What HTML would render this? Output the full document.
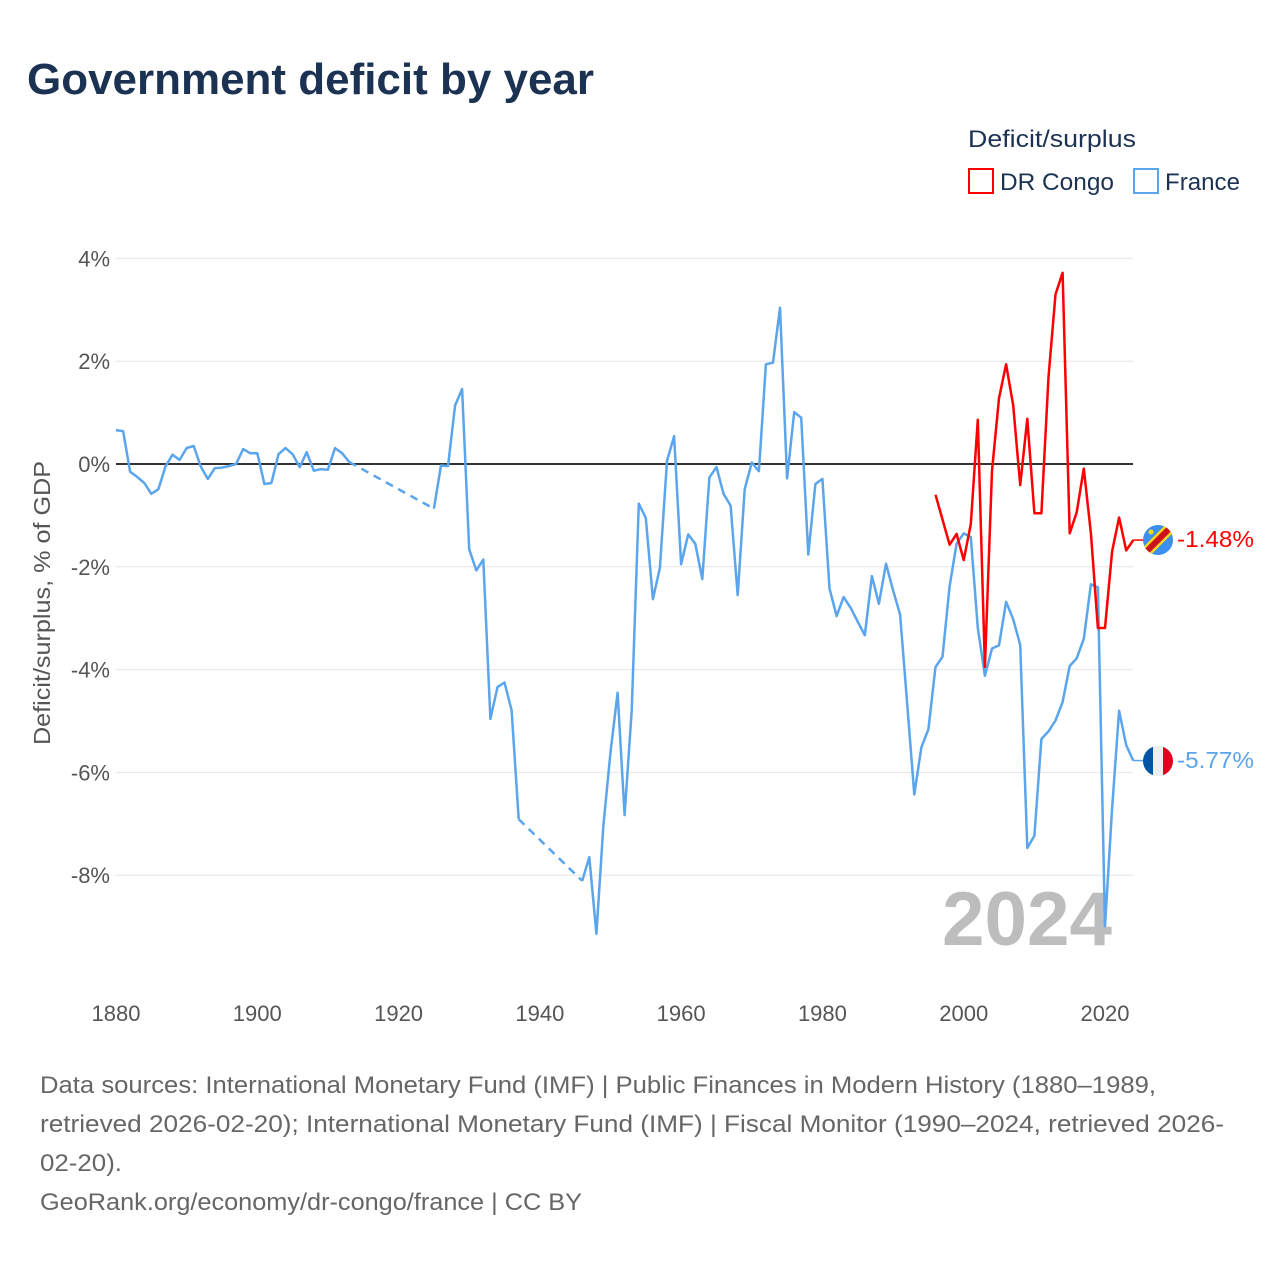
<!DOCTYPE html>
<html><head><meta charset="utf-8"><style>
html,body{margin:0;padding:0;background:#fff;}
svg{display:block;font-family:"Liberation Sans",sans-serif;}
</style></head>
<body>
<svg id="chart" width="1280" height="1280" viewBox="0 0 1280 1280" xmlns="http://www.w3.org/2000/svg">
<rect width="1280" height="1280" fill="#fff"/>
<text x="27" y="94" font-size="44" font-weight="bold" fill="#1b3252" textLength="567" lengthAdjust="spacingAndGlyphs">Government deficit by year</text>
<g>
<text x="968" y="147" font-size="24" fill="#1b3252" textLength="168" lengthAdjust="spacingAndGlyphs">Deficit/surplus</text>
<g>
<rect x="969" y="169" width="24" height="24" fill="none" stroke="#ff0000" stroke-width="2"/>
<text x="1000" y="190" font-size="24" fill="#1b3252" textLength="114" lengthAdjust="spacingAndGlyphs">DR Congo</text></g>
<g>
<rect x="1134" y="169" width="24" height="24" fill="none" stroke="#5aa5ec" stroke-width="2"/>
<text x="1165" y="190" font-size="24" fill="#1b3252" textLength="75" lengthAdjust="spacingAndGlyphs">France</text></g>
</g>
<g id="grid"></g>
<g id="xaxis"></g>
<text transform="translate(50,603) rotate(-90)" text-anchor="middle" font-size="23" fill="#555" textLength="284" lengthAdjust="spacingAndGlyphs">Deficit/surplus, % of GDP</text>
<text x="1112" y="945" text-anchor="end" font-size="76" font-weight="bold" fill="#bdbdbd" textLength="170" lengthAdjust="spacingAndGlyphs">2024</text>
<g id="series"></g>
<g>
<clipPath id="c1"><circle cx="1158" cy="540" r="15"/></clipPath>
<g clip-path="url(#c1)">
<rect x="1140" y="522" width="36" height="36" fill="#3b8ff0"/>
<line x1="1140" y1="558" x2="1176" y2="522" stroke="#f7d618" stroke-width="11"/>
<line x1="1140" y1="558" x2="1176" y2="522" stroke="#ce1021" stroke-width="6"/>
<circle cx="1151" cy="532" r="2.5" fill="#f7d618"/>
</g></g>
<g>
<clipPath id="c2"><circle cx="1158" cy="761" r="15"/></clipPath>
<g clip-path="url(#c2)">
<rect x="1143" y="746" width="10" height="30" fill="#0055a4"/>
<rect x="1153" y="746" width="10" height="30" fill="#eee"/>
<rect x="1163" y="746" width="10" height="30" fill="#e1001f"/>
</g></g>
<text x="1177" y="547" font-size="23" fill="#ff0000" textLength="77" lengthAdjust="spacingAndGlyphs">-1.48%</text>
<text x="1177" y="768" font-size="23" fill="#5aa5ec" textLength="77" lengthAdjust="spacingAndGlyphs">-5.77%</text>
<g font-size="24" fill="#666">
<text x="40" y="1093" textLength="1116" lengthAdjust="spacingAndGlyphs">Data sources: International Monetary Fund (IMF) | Public Finances in Modern History (1880–1989,</text>
<text x="40" y="1132" textLength="1184" lengthAdjust="spacingAndGlyphs">retrieved 2026-02-20); International Monetary Fund (IMF) | Fiscal Monitor (1990–2024, retrieved 2026-</text>
<text x="40" y="1171" textLength="82" lengthAdjust="spacingAndGlyphs">02-20).</text>
<text x="40" y="1210" textLength="542" lengthAdjust="spacingAndGlyphs">GeoRank.org/economy/dr-congo/france | CC BY</text>
</g>
</svg>
<script>
const yTicks=[4,2,0,-2,-4,-6,-8];
const xTicks=[1880,1900,1920,1940,1960,1980,2000,2020];
const franceYears=[1880,1881,1882,1883,1884,1885,1886,1887,1888,1889,1890,1891,1892,1893,1894,1895,1896,1897,1898,1899,1900,1901,1902,1903,1904,1905,1906,1907,1908,1909,1910,1911,1912,1913,
1925,1926,1927,1928,1929,1930,1931,1932,1933,1934,1935,1936,1937,
1946,1947,1948,1949,1950,1951,1952,1953,1954,1955,1956,1957,1958,1959,1960,1961,1962,1963,1964,1965,1966,1967,1968,1969,1970,1971,1972,1973,1974,1975,1976,1977,1978,1979,1980,1981,1982,1983,1984,1985,1986,1987,1988,1989,1990,1991,1992,1993,1994,1995,1996,1997,1998,1999,2000,2001,2002,2003,2004,2005,2006,2007,2008,2009,2010,2011,2012,2013,2014,2015,2016,2017,2018,2019,2020,2021,2022,2023,2024];
const franceValues=[0.66,0.64,-0.15,-0.25,-0.37,-0.58,-0.49,-0.05,0.18,0.08,0.31,0.35,-0.05,-0.29,-0.08,-0.07,-0.04,0,0.29,0.21,0.21,-0.39,-0.37,0.19,0.31,0.19,-0.06,0.23,-0.13,-0.1,-0.11,0.31,0.21,0.04,
-0.87,-0.03,-0.04,1.14,1.46,-1.66,-2.07,-1.86,-4.96,-4.34,-4.25,-4.79,-6.91,
-8.11,-7.65,-9.14,-7.03,-5.61,-4.45,-6.83,-4.8,-0.77,-1.05,-2.63,-2.02,0.06,0.54,-1.95,-1.37,-1.55,-2.24,-0.26,-0.06,-0.58,-0.81,-2.55,-0.49,0.03,-0.14,1.94,1.97,3.04,-0.28,1.01,0.9,-1.76,-0.39,-0.29,-2.42,-2.96,-2.59,-2.8,-3.07,-3.33,-2.18,-2.72,-1.94,-2.46,-2.93,-4.67,-6.43,-5.52,-5.16,-3.95,-3.75,-2.38,-1.55,-1.35,-1.42,-3.19,-4.12,-3.59,-3.53,-2.68,-3.02,-3.52,-7.47,-7.23,-5.35,-5.2,-4.99,-4.63,-3.93,-3.78,-3.4,-2.34,-2.4,-8.99,-6.7,-4.8,-5.47,-5.77];
const congoYears=[1996,1997,1998,1999,2000,2001,2002,2003,2004,2005,2006,2007,2008,2009,2010,2011,2012,2013,2014,2015,2016,2017,2018,2019,2020,2021,2022,2023,2024];
const congoValues=[-0.6,-1.08,-1.57,-1.36,-1.87,-1.17,0.86,-3.95,-0.13,1.28,1.94,1.14,-0.41,0.88,-0.96,-0.96,1.69,3.3,3.72,-1.35,-0.94,-0.09,-1.35,-3.19,-3.19,-1.7,-1.04,-1.68,-1.48];

const NS='http://www.w3.org/2000/svg';
const X=y=>116+(y-1880)*(989/140);
const Y=v=>464-v*51.4;
function mk(tag,attrs,parent){const e=document.createElementNS(NS,tag);for(const k in attrs)e.setAttribute(k,attrs[k]);parent.appendChild(e);return e;}
const grid=document.getElementById('grid'),xa=document.getElementById('xaxis'),ser=document.getElementById('series');
yTicks.forEach(t=>{
  const l=mk('line',{x1:116,x2:1133,y1:Y(t),y2:Y(t),stroke:t===0?'#333':'#e6e6e6','stroke-width':t===0?2:1},grid);
  
  
  const tx=mk('text',{x:110,y:Y(t)+8,'text-anchor':'end','font-size':22,fill:'#555'},grid);
  tx.textContent=t+'%';
  
  
});
xTicks.forEach(t=>{
  const tx=mk('text',{x:X(t),y:1021,'text-anchor':'middle','font-size':22,fill:'#555'},xa);
  tx.textContent=t;
  
  
});
function draw(years,vals,color,name){
  let seg=[];const segs=[];
  for(let i=0;i<years.length;i++){
    if(i>0&&years[i]-years[i-1]>1){segs.push(seg);seg=[];
      const d=mk('line',{x1:X(years[i-1]),y1:Y(vals[i-1]),x2:X(years[i]),y2:Y(vals[i]),stroke:color,'stroke-width':2.5,'stroke-dasharray':'8,6'},ser);
      
      
    }
    seg.push(X(years[i]).toFixed(1)+','+Y(vals[i]).toFixed(1));
  }
  segs.push(seg);
  segs.forEach(s=>{
    const p=mk('polyline',{points:s.join(' '),fill:'none',stroke:color,'stroke-width':2.5,'stroke-linejoin':'round'},ser);
    
    
  });
  const n=years.length-1;
  const c=mk('line',{x1:X(years[n]),y1:Y(vals[n]),x2:1143,y2:Y(vals[n]),stroke:color,'stroke-width':1.5},ser);
  
  
}
draw(franceYears,franceValues,'#5aa5ec','france');
draw(congoYears,congoValues,'#ff0000','dr-congo');
</script>
</body></html>
